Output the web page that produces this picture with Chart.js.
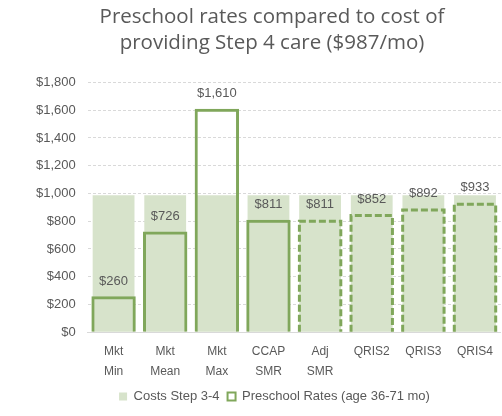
<!DOCTYPE html>
<html lang="en">
  <head>
    <meta charset="UTF-8" />
    <title>Preschool rates vs cost</title>
    <script src="https://cdn.jsdelivr.net/npm/chart.js@4"></script>
    <style>
      body { margin: 0; background: #fff; }
      #wrap { width: 502px; height: 416px; }
    </style>
  </head>
  <body>
    <div id="wrap"><canvas id="myChart" width="502" height="416"></canvas></div>

    <script>
      const categories = [
        ['Mkt', 'Min'], ['Mkt', 'Mean'], ['Mkt', 'Max'], ['CCAP', 'SMR'],
        ['Adj', 'SMR'], 'QRIS2', 'QRIS3', 'QRIS4'
      ];
      const costs = [987, 987, 987, 987, 987, 987, 987, 987];
      const rates = [260, 726, 1610, 811, 811, 852, 892, 933];
      // which rate bars get a dashed outline
      const dashed = [false, false, false, false, true, true, true, true];

      const green = '#80a75b';
      const lightGreen = '#d7e3cb';
      const grey = '#595959';
      const smallFont = '"Liberation Sans", Arial, sans-serif';

      const fmt = v => '$' + v.toLocaleString('en-US');

      // dashed outlines + value labels, and nudge title/legend like the original
      const barExtras = {
        id: 'barExtras',
        afterLayout(chart) {
          chart.titleBlock.left = 42;
          chart.legend.left = 47;
        },
        afterDatasetsDraw(chart) {
          const ctx = chart.ctx;
          const meta = chart.getDatasetMeta(1);
          meta.data.forEach((bar, i) => {
            const p = bar.getProps(['x', 'y', 'base', 'width'], true);
            const l = p.x - p.width / 2 + 1.5, r = p.x + p.width / 2 - 1.5, t = p.y + 1.5;
            if (dashed[i]) {
              ctx.save();
              ctx.strokeStyle = green;
              ctx.lineWidth = 3;
              ctx.setLineDash([7, 3]);
              ctx.beginPath();
              ctx.moveTo(l, p.base);
              ctx.lineTo(l, t);
              ctx.lineTo(r, t);
              ctx.lineTo(r, p.base);
              ctx.stroke();
              ctx.restore();
            }
            ctx.save();
            ctx.fillStyle = grey;
            ctx.font = '13px ' + smallFont;
            ctx.textAlign = 'center';
            ctx.textBaseline = 'middle';
            ctx.fillText(fmt(rates[i]), p.x, p.y - 15);
            ctx.restore();
          });
        }
      };

      const ctx = document.getElementById('myChart').getContext('2d');
      new Chart(ctx, {
        type: 'bar',
        data: {
          labels: categories,
          datasets: [{
            label: 'Costs Step 3-4',
            data: costs,
            backgroundColor: lightGreen,
            borderWidth: 0,
            grouped: false,
            categoryPercentage: 1,
            barPercentage: 0.81,
            order: 2
          }, {
            label: 'Preschool Rates (age 36-71 mo)',
            data: rates,
            backgroundColor: 'rgba(0,0,0,0)',
            borderColor: rates.map((v, i) => dashed[i] ? 'rgba(0,0,0,0)' : green),
            borderWidth: 3,
            borderSkipped: 'start',
            grouped: false,
            categoryPercentage: 1,
            barPercentage: 0.86,
            order: 1
          }]
        },
        options: {
          responsive: false,
          animation: false,
          layout: { padding: { left: 24, right: 0, top: 0, bottom: 3 } },
          scales: {
            x: {
              grid: { display: false, drawTicks: false },
              border: { display: true, color: '#d9d9d9', width: 1 },
              ticks: {
                color: grey,
                font: { family: smallFont, size: 12, lineHeight: 1.7 },
                padding: 9,
                maxRotation: 0,
                autoSkip: false
              },
              // ticks padding is counted twice; drop the extra space under the labels
              afterFit: scale => { scale.height -= 9; }
            },
            y: {
              min: 0,
              max: 1800,
              ticks: {
                stepSize: 200,
                color: grey,
                padding: 12,
                font: { family: smallFont, size: 13 },
                callback: v => fmt(v)
              },
              grid: { color: '#d9d9d9', drawTicks: false },
              border: { display: false, dash: [3, 2] }
            }
          },
          plugins: {
            title: {
              display: true,
              text: ['Preschool rates compared to cost of', 'providing Step 4 care ($987/mo)'],
              color: grey,
              font: { family: '"Open Sans", sans-serif', size: 20.5, weight: 'normal', lineHeight: 1.28 },
              padding: { top: 4, bottom: 26 }
            },
            legend: {
              position: 'bottom',
              labels: {
                color: grey,
                boxWidth: 8,
                boxHeight: 8,
                padding: 8,
                font: { family: smallFont, size: 13 },
                generateLabels: chart => chart.data.datasets.map((ds, i) => ({
                  text: ds.label,
                  fillStyle: i === 0 ? lightGreen : '#ffffff',
                  strokeStyle: green,
                  lineWidth: i === 0 ? 0 : 2,
                  fontColor: grey,
                  datasetIndex: i
                }))
              }
            },
            tooltip: { enabled: false }
          }
        },
        plugins: [barExtras]
      });
    </script>
  </body>
</html>
